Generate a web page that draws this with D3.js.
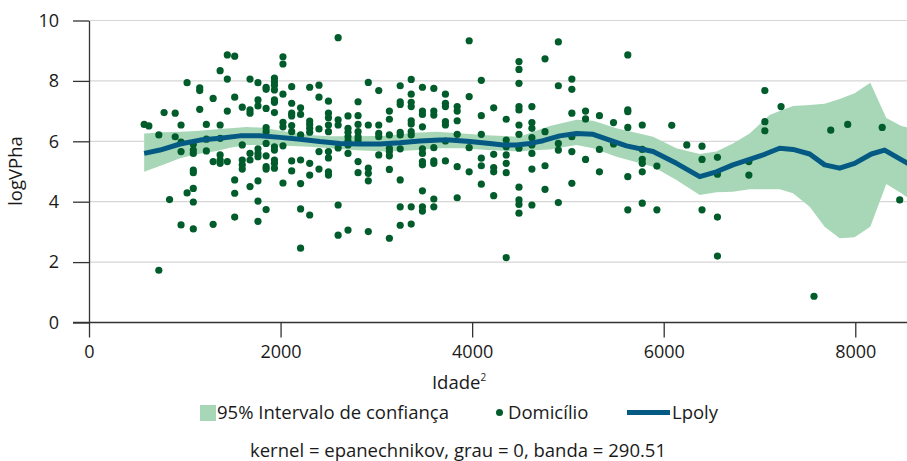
<!DOCTYPE html>
<html>
<head>
<meta charset="utf-8">
<script src="https://cdn.jsdelivr.net/npm/d3@7"></script>
<style>
  html, body { margin: 0; padding: 0; background: #fff; }
  svg { display: block; font-family: "Open Sans", sans-serif; }
  .tick text { font-size: 18px; fill: #1a1a1a; }
  .domain, .tick line { stroke: #333; }
</style>
</head>
<body>
<div id="chart"></div>
<script>
//Pontos: Idade² (colunas) e logVPha
const domX = [
  576, 625, 729, 729, 784, 841, 900, 900, 961, 961, 961, 961, 1024, 1024,
  1089, 1089, 1089, 1089, 1089, 1089, 1089, 1089, 1156, 1156, 1156, 1225, 1225, 1225,
  1296, 1296, 1296, 1369, 1369, 1369, 1369, 1369, 1369, 1444, 1444, 1444, 1444,
  1521, 1521, 1521, 1521, 1521, 1600, 1600, 1600, 1600, 1600,
  1681, 1681, 1681, 1681, 1681, 1681, 1764, 1764, 1764, 1764, 1764, 1764, 1764, 1764, 1764,
  1849, 1849, 1849, 1849, 1849, 1849, 1849, 1849, 1849, 1849,
  1936, 1936, 1936, 1936, 1936, 1936, 1936, 1936, 1936, 1936, 1936, 1936,
  2025, 2025, 2025, 2025, 2025, 2025, 2025, 2116, 2116, 2116, 2116, 2116, 2116, 2116, 2116,
  2209, 2209, 2209, 2209, 2209, 2209, 2209, 2304, 2304, 2304, 2304, 2304, 2304, 2304, 2304,
  2401, 2401, 2401, 2401, 2401, 2500, 2500, 2500, 2500, 2500, 2500, 2500, 2500, 2500,
  2601, 2601, 2601, 2601, 2601, 2601, 2704, 2704, 2704, 2704, 2704, 2704, 2704, 2704,
  2809, 2809, 2809, 2809, 2809, 2809, 2809, 2809, 2916, 2916, 2916, 2916, 2916, 2916,
  3025, 3025, 3025, 3025, 3025, 3136, 3136, 3136, 3136, 3136, 3136, 3136, 3136,
  3249, 3249, 3249, 3249, 3249, 3249, 3249, 3249, 3249,
  3364, 3364, 3364, 3364, 3364, 3364, 3364, 3364, 3364, 3364,
  3481, 3481, 3481, 3481, 3481, 3481, 3481, 3481, 3481, 3481, 3481,
  3600, 3600, 3600, 3600, 3600, 3600, 3600, 3600, 3721, 3721, 3721, 3721, 3721, 3721, 3721,
  3844, 3844, 3844, 3844, 3844, 3844, 3969, 3969, 3969, 3969,
  4096, 4096, 4096, 4096, 4096, 4096, 4225, 4225, 4225, 4225, 4225,
  4356, 4356, 4356, 4356, 4356, 4356, 4356,
  4489, 4489, 4489, 4489, 4489, 4489, 4489, 4489, 4489, 4489, 4489, 4489,
  4624, 4624, 4624, 4624, 4624, 4624, 4624, 4624, 4761, 4761, 4761, 4761,
  4900, 4900, 4900, 4900, 4900, 5041, 5041, 5041, 5041, 5041, 5041,
  5184, 5184, 5184, 5329, 5329, 5329, 5476, 5476,
  5625, 5625, 5625, 5625, 5625, 5625, 5776, 5776, 5776, 5776, 5776, 5776,
  5929, 5929, 6084, 6241, 6400, 6400, 6400, 6561, 6561, 6561, 6561,
  6889, 6889, 7056, 7056, 7056, 7225, 7569, 7744, 7921, 8281, 8464
];
const domY = [
  6.56, 6.51, 6.21, 1.73, 6.95, 4.07, 6.93, 6.15, 6.54, 5.97, 5.66, 3.23, 7.94, 4.29,
  5.90, 5.71, 5.60, 5.05, 4.96, 4.44, 3.99, 3.10, 7.77, 7.68, 7.06, 6.56, 6.07, 5.68,
  7.42, 5.33, 3.25, 8.34, 6.54, 6.10, 5.55, 5.38, 5.27, 8.86, 8.06, 7.00, 5.33,
  8.82, 7.46, 4.72, 4.28, 3.49, 7.13, 5.88, 5.38, 5.22, 5.08,
  8.06, 7.04, 6.93, 5.60, 5.38, 4.50, 7.94, 7.37, 7.17, 5.75, 5.60, 5.49, 4.69, 4.02, 3.35,
  7.79, 7.72, 7.09, 6.45, 6.32, 5.93, 5.52, 5.16, 5.08, 3.74,
  8.09, 7.97, 7.86, 7.70, 7.37, 7.29, 6.95, 5.82, 5.71, 5.38, 5.27, 5.11,
  8.80, 8.56, 7.56, 6.63, 6.48, 5.85, 4.62, 7.81, 7.26, 6.93, 6.84, 6.52, 6.32, 5.35, 5.02,
  7.11, 6.89, 6.21, 5.38, 4.60, 3.76, 2.46, 7.79, 6.67, 6.56, 6.43, 6.30, 5.27, 4.88, 3.56,
  7.86, 7.46, 6.41, 5.66, 5.08, 7.33, 6.93, 6.78, 6.54, 6.32, 5.66, 5.45, 4.99, 4.88,
  9.43, 6.71, 6.54, 5.78, 3.89, 2.89, 6.84, 6.43, 6.30, 6.15, 6.01, 5.88, 5.60, 3.06,
  7.31, 6.85, 6.56, 6.32, 6.15, 6.04, 5.33, 4.96, 7.95, 6.54, 5.11, 4.94, 4.69, 3.01,
  7.68, 6.54, 6.26, 6.15, 5.55, 7.00, 6.73, 6.21, 5.77, 5.66, 5.52, 5.07, 2.79,
  7.84, 7.31, 7.22, 6.30, 6.21, 5.75, 4.72, 3.83, 3.22,
  8.05, 7.56, 7.29, 7.15, 6.68, 6.57, 6.32, 6.21, 3.83, 3.26,
  7.79, 7.00, 6.89, 6.48, 5.75, 5.60, 5.33, 5.22, 4.36, 3.83, 3.69,
  7.75, 7.00, 6.87, 5.79, 5.35, 5.27, 4.09, 3.83, 7.56, 7.26, 7.15, 6.65, 6.54, 6.01, 5.35,
  7.15, 7.00, 6.68, 6.23, 5.16, 4.13, 9.33, 7.48, 5.79, 4.99,
  8.02, 6.85, 6.23, 5.44, 5.19, 4.58, 7.11, 5.57, 5.13, 4.99, 4.20,
  6.73, 6.04, 5.82, 5.55, 5.27, 4.96, 2.15,
  8.64, 8.38, 7.92, 7.15, 7.04, 6.54, 6.23, 5.77, 4.48, 4.06, 3.91, 3.62,
  7.15, 6.62, 6.43, 6.12, 5.88, 5.60, 5.08, 3.89, 8.73, 6.32, 5.19, 4.41,
  9.29, 7.84, 5.93, 5.71, 3.97, 8.06, 7.72, 6.93, 6.15, 5.66, 4.61,
  7.00, 6.74, 5.40, 6.85, 5.73, 4.99, 6.62, 5.91,
  8.86, 7.04, 6.98, 6.46, 4.83, 3.73, 6.54, 5.73, 5.40, 5.27, 4.99, 3.95,
  5.18, 3.73, 6.53, 5.88, 5.84, 5.40, 3.73, 5.47, 4.91, 3.49, 2.20,
  5.33, 4.88, 7.68, 6.65, 6.35, 7.15, 0.87, 6.37, 6.56, 6.46, 4.06
];

//Intervalo de confiança 95%
const bandX = [576, 775, 950, 1124, 1333, 1471, 1646, 1819, 2063, 2306, 2515, 2793, 3106, 3400, 3628, 3900, 4150, 4498, 4636, 4811, 5089, 5263, 5507, 5889, 6133, 6376, 6550, 6723, 6897, 7106, 7210, 7350, 7524, 7680, 7837, 7993, 8157, 8324, 8481, 8560];
const bandHi = [6.26, 6.30, 6.32, 6.34, 6.40, 6.43, 6.47, 6.45, 6.32, 6.21, 6.17, 6.17, 6.18, 6.28, 6.32, 6.26, 6.20, 6.15, 6.32, 6.51, 6.71, 6.68, 6.43, 6.15, 5.77, 5.58, 5.66, 5.93, 6.26, 6.87, 7.00, 7.17, 7.20, 7.24, 7.40, 7.59, 7.94, 6.77, 6.51, 6.45];
const bandLo = [4.99, 5.22, 5.44, 5.57, 5.68, 5.79, 5.88, 5.88, 5.85, 5.82, 5.77, 5.70, 5.66, 5.70, 5.77, 5.77, 5.71, 5.66, 5.70, 5.73, 5.88, 5.77, 5.49, 5.16, 4.72, 4.22, 4.31, 4.33, 4.41, 4.41, 4.41, 4.28, 3.83, 3.17, 2.79, 2.82, 3.17, 4.59, 4.28, 4.10];

//Lpoly
const lpolyX = [576, 741, 950, 1158, 1367, 1576, 1784, 1993, 2202, 2410, 2619, 2828, 3037, 3245, 3454, 3663, 3767, 3976, 4184, 4323, 4463, 4602, 4741, 4915, 5089, 5263, 5437, 5611, 5889, 6133, 6376, 6550, 6723, 6897, 7054, 7210, 7350, 7524, 7680, 7837, 7993, 8168, 8306, 8497, 8560];
const lpolyY = [5.60, 5.71, 5.91, 6.04, 6.10, 6.18, 6.18, 6.13, 6.07, 5.99, 5.93, 5.91, 5.91, 5.95, 6.01, 6.04, 6.04, 5.99, 5.93, 5.88, 5.88, 5.93, 6.02, 6.18, 6.26, 6.23, 6.04, 5.85, 5.66, 5.27, 4.83, 4.99, 5.22, 5.40, 5.57, 5.77, 5.73, 5.58, 5.22, 5.11, 5.27, 5.58, 5.71, 5.36, 5.25];

const xTicks = [0, 2000, 4000, 6000, 8000];
const yTicks = [0, 2, 4, 6, 8, 10];

const COLOR_BAND = '#a8d7b8',
COLOR_DOT = '#005c2b',
COLOR_LINE = '#045a82',
COLOR_TEXT = '#1a1a1a';

let W = 907, H = 461;
let svg = d3.select('#chart').append('svg').attr('width', W).attr('height', H);

let x = d3.scaleLinear().domain([0, 8540]).range([89, 907]);
let y = d3.scaleLinear().domain([0, 10]).range([322.5, 20.5]);

//Rejilla
svg.append('g')
    .selectAll('line')
    .data(yTicks.filter(d => d > 0))
    .enter()
    .append('line')
    .attr('x1', x(0)).attr('x2', W)
    .attr('y1', d => y(d)).attr('y2', d => y(d))
    .attr('stroke', '#d6d6d6').attr('stroke-width', 1.2);

//Banda
let band = bandX.map((d, i) => ({ x: d, lo: bandLo[i], hi: bandHi[i] }));
svg.append('path')
    .datum(band)
    .attr('fill', COLOR_BAND)
    .attr('d', d3.area().x(d => x(d.x)).y0(d => y(d.lo)).y1(d => y(d.hi)));

//Puntos
svg.append('g')
    .selectAll('circle')
    .data(domX.map((d, i) => ({ x: d, y: domY[i] })))
    .enter()
    .append('circle')
    .attr('cx', d => x(d.x))
    .attr('cy', d => y(d.y))
    .attr('r', 3.6)
    .attr('fill', COLOR_DOT);

//Lpoly
svg.append('path')
    .datum(lpolyX.map((d, i) => ({ x: d, y: lpolyY[i] })))
    .attr('fill', 'none')
    .attr('stroke', COLOR_LINE)
    .attr('stroke-width', 5)
    .attr('stroke-linejoin', 'round')
    .attr('d', d3.line().x(d => x(d.x)).y(d => y(d.y)));

//Ejes
svg.append('g')
    .attr('transform', 'translate(0,' + y(0) + ')')
    .call(d3.axisBottom(x).tickValues(xTicks).tickFormat(d3.format('d')).tickSize(15).tickPadding(8).tickSizeOuter(0))
    .call(g => g.select('.domain').attr('d', 'M' + 73 + ',0H' + W));

svg.append('g')
    .attr('transform', 'translate(' + x(0) + ',0)')
    .call(d3.axisLeft(y).tickValues(yTicks).tickFormat(d3.format('d')).tickSize(16).tickPadding(14).tickSizeOuter(0));

svg.selectAll('.domain, .tick line').attr('stroke-width', 1.3);
svg.selectAll('.tick text').attr('font-family', '"Open Sans", sans-serif');

//Títulos de ejes
svg.append('text')
    .attr('transform', 'translate(22,171) rotate(-90)')
    .attr('text-anchor', 'middle')
    .attr('font-size', 18.5).attr('fill', COLOR_TEXT)
    .text('logVPha');

let xl = svg.append('text')
    .attr('x', 459).attr('y', 389)
    .attr('text-anchor', 'middle')
    .attr('font-size', 18.5).attr('fill', COLOR_TEXT);
xl.append('tspan').text('Idade');
xl.append('tspan').attr('font-size', 10).attr('dy', -8).text('2');

//Leyenda
let leg = svg.append('g').attr('font-size', 18.5).attr('fill', COLOR_TEXT);
leg.append('rect').attr('x', 200).attr('y', 405).attr('width', 16).attr('height', 16).attr('fill', COLOR_BAND);
leg.append('text').attr('x', 217).attr('y', 418.5).text('95% Intervalo de confiança');
leg.append('circle').attr('cx', 499.5).attr('cy', 412.5).attr('r', 3.5).attr('fill', COLOR_DOT);
leg.append('text').attr('x', 508).attr('y', 418.5).text('Domicílio');
leg.append('line').attr('x1', 627).attr('x2', 670).attr('y1', 412.5).attr('y2', 412.5).attr('stroke', COLOR_LINE).attr('stroke-width', 5);
leg.append('text').attr('x', 672).attr('y', 418.5).text('Lpoly');

//Nota
svg.append('text')
    .attr('x', 458).attr('y', 456.5)
    .attr('text-anchor', 'middle')
    .attr('font-size', 18.5).attr('fill', COLOR_TEXT)
    .text('kernel = epanechnikov, grau = 0, banda = 290.51');
</script>
</body>
</html>
